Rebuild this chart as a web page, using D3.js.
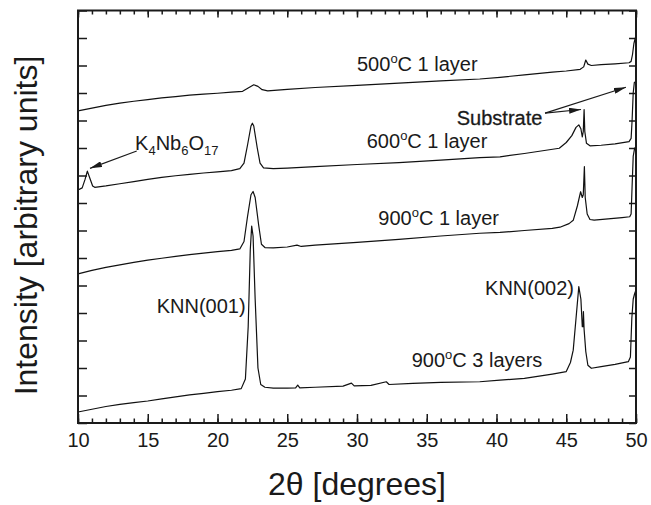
<!DOCTYPE html>
<html><head><meta charset="utf-8">
<script src="https://cdn.jsdelivr.net/npm/d3@7"></script>
<style>
body{margin:0;background:#fff;}
svg text{font-family:"Liberation Sans",Arial,sans-serif;fill:#1a1a1a;}
</style></head>
<body><svg id="c" width="651" height="505"></svg>
<script>
// ---- data (2theta in degrees, intensity in arbitrary offset units) ----
const xTicksMajor = [10, 15, 20, 25, 30, 35, 40, 45, 50];
const xTicksMinor = d3.range(10, 51, 1);
const yTicks = d3.range(0, 16, 1);

const s500 = [[10,11.35],[11,11.45],[12,11.55],[13,11.63],[14,11.70],[15,11.76],[16,11.82],[17,11.87],[18,11.92],[19,11.96],[20,11.99],[21,12.03],[21.8,12.06],[22.2,12.18],[22.6,12.30],[22.9,12.24],[23.2,12.12],[23.6,12.08],[25,12.13],[27,12.20],[30,12.28],[33,12.36],[36,12.44],[38.8,12.51],[40.25,12.57],[42,12.66],[44,12.76],[45,12.80],[46.0,12.86],[46.25,12.95],[46.4,13.20],[46.55,13.05],[46.8,13.00],[47.5,13.03],[48.5,13.06],[49.5,13.10],[49.65,13.15],[49.75,13.40],[49.85,13.80],[49.95,14.00],[50,14.05]];

const s600 = [[10,8.47],[10.3,8.55],[10.5,8.85],[10.67,9.16],[10.85,8.90],[11.05,8.62],[11.2,8.57],[12,8.62],[13,8.70],[14,8.78],[15,8.86],[16,8.93],[17,8.99],[18,9.04],[19,9.09],[20,9.13],[21,9.18],[21.6,9.25],[21.9,9.45],[22.15,10.10],[22.4,10.80],[22.5,10.90],[22.6,10.80],[22.85,10.00],[23.05,9.45],[23.3,9.28],[24,9.25],[25,9.27],[27,9.32],[30,9.40],[33,9.47],[36,9.56],[38.8,9.65],[40.25,9.68],[42,9.80],[44.5,9.99],[45.0,10.20],[45.4,10.45],[45.7,10.75],[45.9,10.84],[46.05,10.70],[46.15,10.40],[46.22,10.60],[46.28,11.40],[46.33,10.60],[46.45,10.17],[46.7,10.08],[47.5,10.10],[48.5,10.15],[49.5,10.23],[49.65,10.35],[49.72,11.00],[49.8,12.00],[49.88,12.38],[50,12.42]];

const s900a = [[10,5.42],[11,5.55],[12,5.66],[13,5.75],[14,5.84],[15,5.92],[16,5.99],[17,6.06],[18,6.12],[19,6.18],[20,6.23],[21,6.28],[21.6,6.33],[21.9,6.60],[22.15,7.50],[22.4,8.30],[22.55,8.42],[22.7,8.20],[22.95,7.20],[23.15,6.50],[23.4,6.38],[24,6.37],[25,6.40],[25.7,6.47],[26,6.42],[27,6.47],[30,6.57],[33,6.68],[36,6.80],[38.8,6.90],[40.25,6.93],[42,7.00],[44,7.08],[44.55,7.12],[45.2,7.25],[45.5,7.37],[45.8,7.90],[46.03,8.41],[46.15,8.20],[46.22,8.30],[46.3,9.32],[46.36,8.20],[46.5,7.60],[46.7,7.40],[47,7.38],[48,7.42],[49,7.47],[49.55,7.50],[49.65,7.60],[49.72,8.60],[49.8,9.70],[49.9,9.99],[50,10.05]];

const s900b = [[10,0.40],[11,0.50],[12,0.60],[13,0.68],[14,0.74],[15,0.80],[16,0.88],[17,0.95],[18,1.02],[19,1.08],[20,1.14],[21,1.19],[21.7,1.25],[22.0,1.60],[22.2,3.50],[22.35,6.30],[22.45,7.16],[22.55,6.80],[22.7,4.50],[22.9,2.00],[23.1,1.40],[23.4,1.30],[24,1.27],[25,1.27],[25.6,1.28],[25.75,1.38],[25.9,1.28],[27,1.30],[29,1.34],[29.6,1.45],[29.8,1.35],[31,1.37],[32.1,1.50],[32.3,1.40],[34,1.44],[36,1.48],[38.8,1.50],[40.25,1.56],[42,1.62],[44,1.78],[45.0,1.87],[45.3,2.20],[45.5,2.65],[45.7,3.80],[45.9,4.96],[46.05,4.50],[46.15,3.50],[46.2,3.50],[46.23,4.05],[46.28,3.40],[46.4,2.60],[46.55,2.10],[46.8,1.99],[47.5,2.05],[48.5,2.13],[49.45,2.23],[49.6,2.40],[49.7,3.80],[49.8,4.50],[49.9,4.70],[50,4.84]];

const seriesList = [s500, s600, s900a, s900b];

// ---- layout ----
const svg = d3.select("#c");
const L = 78, R = 636, T = 10.5, B = 423;
const x = d3.scaleLinear().domain([10, 50]).range([L, R]);
const y = d3.scaleLinear().domain([0, 15]).range([B, T]);

// ticks
const tickStyle = g => { g.select(".domain").remove(); g.selectAll("line").attr("stroke","#1a1a1a").attr("stroke-width",1.5); };
svg.append("g").attr("transform",`translate(0,${B})`)
  .call(d3.axisBottom(x).tickValues(xTicksMinor).tickSize(-4.5).tickFormat(""))
  .call(tickStyle);
const bx = svg.append("g").attr("transform",`translate(0,${B})`)
  .call(d3.axisBottom(x).tickValues(xTicksMajor).tickSizeInner(-9).tickSizeOuter(0).tickPadding(9.5).tickFormat(d3.format("d")))
  .call(tickStyle);
bx.selectAll("text").attr("font-size",20).attr("fill","#1a1a1a");
svg.append("g").attr("transform",`translate(0,${T})`)
  .call(d3.axisTop(x).tickValues(xTicksMinor).tickSize(-4).tickFormat(""))
  .call(tickStyle);
svg.append("g").attr("transform",`translate(0,${T})`)
  .call(d3.axisTop(x).tickValues(xTicksMajor).tickSize(-7).tickFormat(""))
  .call(tickStyle);
svg.append("g").attr("transform",`translate(${L},0)`)
  .call(d3.axisLeft(y).tickValues(yTicks).tickSize(-9).tickFormat(""))
  .call(tickStyle);
svg.append("g").attr("transform",`translate(${R},0)`)
  .call(d3.axisRight(y).tickValues(yTicks).tickSize(-7).tickFormat(""))
  .call(tickStyle);

// curves
const line = d3.line().x(d => x(d[0])).y(d => y(d[1]));
svg.append("g").selectAll("path").data(seriesList).join("path")
  .attr("d", line).attr("fill","none").attr("stroke","#111").attr("stroke-width",1.2)
  .attr("stroke-linejoin","round");

// frame
svg.append("rect").attr("x",L).attr("y",T).attr("width",R-L).attr("height",B-T)
  .attr("fill","none").attr("stroke","#1a1a1a").attr("stroke-width",2);

// arrow marker
svg.append("defs").append("marker").attr("id","ah").attr("viewBox","0 0 12 6")
  .attr("refX",12).attr("refY",3).attr("markerWidth",12).attr("markerHeight",6)
  .attr("markerUnits","userSpaceOnUse").attr("orient","auto")
  .append("path").attr("d","M0,0 L12,3 L0,6 Z").attr("fill","#1a1a1a");

const arrows = [[[14.21,9.89],[10.86,9.26]],[[43.48,11.27],[46.06,11.40]],[[43.48,11.27],[49.28,12.21]]];
svg.append("g").selectAll("line").data(arrows).join("line")
  .attr("x1",d=>x(d[0][0])).attr("y1",d=>y(d[0][1]))
  .attr("x2",d=>x(d[1][0])).attr("y2",d=>y(d[1][1]))
  .attr("stroke","#1a1a1a").attr("stroke-width",1.2).attr("marker-end","url(#ah)");

// labels with superscript "o"
function tempLabel(t, pos, rest) {
  const el = svg.append("text").attr("x",x(pos[0])).attr("y",y(pos[1])).attr("font-size",20);
  el.append("tspan").text(t);
  el.append("tspan").attr("font-size",13).attr("dy",-8).text("o");
  el.append("tspan").attr("dy",8).text("C " + rest);
}
tempLabel("500", [30.0,12.81], "1 layer");
tempLabel("600", [30.7,10.01], "1 layer");
tempLabel("900", [31.53,7.20], "1 layer");
tempLabel("900", [33.92,2.05], "3 layers");

svg.append("text").attr("x",x(37.15)).attr("y",y(10.84)).attr("font-size",20)
  .attr("stroke","#1a1a1a").attr("stroke-width",0.3).text("Substrate");
svg.append("text").attr("x",x(15.64)).attr("y",y(4.01)).attr("font-size",20).text("KNN(001)");
svg.append("text").attr("x",x(39.18)).attr("y",y(4.65)).attr("font-size",20).text("KNN(002)");

const k = svg.append("text").attr("x",x(14.09)).attr("y",y(9.93)).attr("font-size",20);
k.append("tspan").text("K");
k.append("tspan").attr("font-size",13).attr("dy",5).text("4");
k.append("tspan").attr("dy",-5).text("Nb");
k.append("tspan").attr("font-size",13).attr("dy",5).text("6");
k.append("tspan").attr("dy",-5).text("O");
k.append("tspan").attr("font-size",13).attr("dy",5).text("17");

// axis titles
svg.append("text").attr("x",357).attr("y",495).attr("text-anchor","middle").attr("font-size",32)
  .text("2θ [degrees]");
svg.append("text").attr("transform","translate(37,225.5) rotate(-90)").attr("text-anchor","middle")
  .attr("font-size",32).text("Intensity [arbitrary units]");
</script></body></html>
